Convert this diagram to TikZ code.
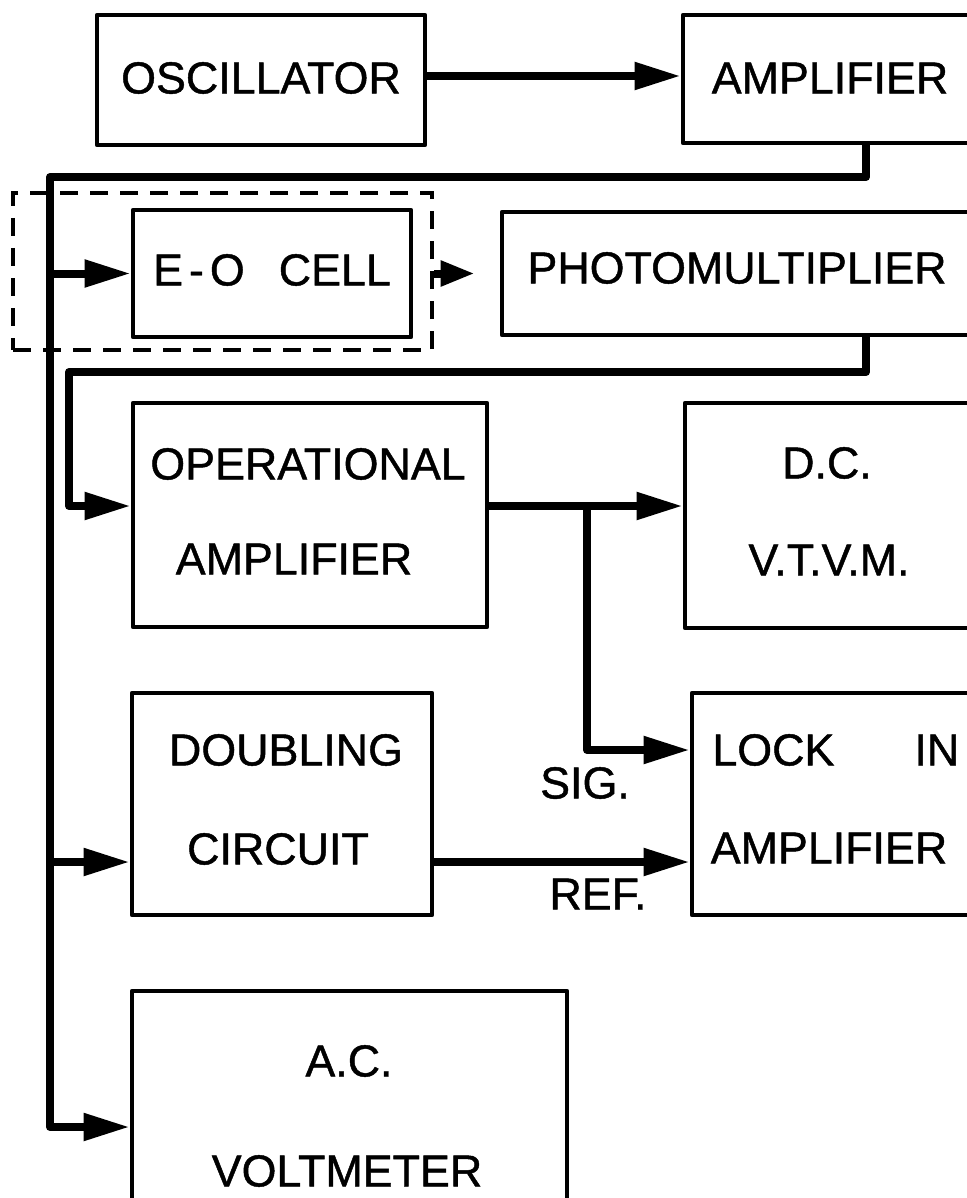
\documentclass[tikz,border=0pt]{standalone}
\usepackage{fontspec}
\setmainfont{Liberation Sans}
\newfontface\lettering{Liberation Sans}[FakeBold=1.0]
\usetikzlibrary{arrows.meta,fit}
\begin{document}
\begin{tikzpicture}[x=0.5pt,y=-0.5pt,
  box/.style={draw=black, line width=2.3pt, inner sep=0pt, line join=round},
  dashbox/.style={draw=black, line width=2pt, dash pattern=on 9pt off 6pt, inner sep=0pt},
  lbl/.style={inner sep=0pt, font=\lettering\fontsize{22.4}{26}\selectfont},
  conn/.style={draw=black, line width=4pt, line join=round},
  arr/.style={-{Triangle[length=23pt,width=13pt]}}]
\clip (0,0) rectangle (967,1198);
\fill[white] (0,0) rectangle (967,1198);
% boxes
\node[box, fit={(97,15) (425,145)}] (osc) {};
\node[box, fit={(683,15) (1010,143)}] (amp) {};
\node[box, fit={(133,210) (411,337)}] (eo) {};
\node[dashbox, fit={(13,193) (432,350)}] (eobox) {};
\node[box, fit={(502,212) (1010,335)}] (pm) {};
\node[box, fit={(133,403) (487,627)}] (op) {};
\node[box, fit={(685,403) (1010,628)}] (dcv) {};
\node[box, fit={(132,693) (432,915)}] (dbl) {};
\node[box, fit={(692,693) (1010,915)}] (lock) {};
\node[box, fit={(132,991) (567,1260)}] (acv) {};
% texts
\node[lbl] (osc-t) at (261,78) {OSCILLATOR};
\node[lbl] (amp-t) at (830,78) {AMPLIFIER};
\node[lbl] (eo-t) at (272,270) {E\hspace{3pt}-\hspace{3pt}O\hspace{17pt}CELL};
\node[lbl] (pm-t) at (737,268) {PHOTOMULTIPLIER};
\node[lbl] (op-t1) at (308,464) {OPERATIONAL};
\node[lbl] (op-t2) at (294,559) {AMPLIFIER};
\node[lbl] (dcv-t1) at (827,463) {D.C.};
\node[lbl] (dcv-t2) at (829,560) {V.T.V.M.};
\node[lbl] (dbl-t1) at (286,750) {DOUBLING};
\node[lbl] (dbl-t2) at (278,849) {CIRCUIT};
\node[lbl, anchor=west] (lock-t1) at (712,750) {LOCK\hspace{40pt}IN};
\node[lbl] (lock-t2) at (829,848) {AMPLIFIER};
\node[lbl] (acv-t1) at (349,1061) {A.C.};
\node[lbl] (acv-t2) at (347,1171) {VOLTMETER};
\node[lbl] (sig) at (585,783) {SIG.};
\node[lbl] (ref) at (598,894) {REF.};
% routing coordinates
\coordinate (r1) at (0,76);
\coordinate (ampout) at (866,0);
\coordinate (bustop) at (50,177);
\coordinate (r2) at (0,1127);
\coordinate (r3) at (0,862);
\coordinate (pmout) at (866,0);
\coordinate (pmloop) at (69,372);
\coordinate (r4) at (0,506);
\coordinate (jn) at (587,506);
\coordinate (r5) at (0,750);
% connectors
\draw[conn,arr] (osc.east |- r1) -- (amp.west |- r1);
\draw[conn,arr] (amp.south -| ampout) |- (bustop) |- (acv.west |- r2);
\draw[conn,arr] (bustop |- eo.west) -- (eo.west);
\draw[conn,arr] (bustop |- r3) -- (dbl.west |- r3);
\draw[conn,-{Triangle[length=17pt,width=12pt]},shorten >=12.5pt] (eobox.east |- eo.east) -- (pm.west |- eo.east);
\draw[conn,arr] (pm.south -| pmout) |- (pmloop) |- (op.west |- r4);
\draw[conn,arr] (op.east |- r4) -- (dcv.west |- r4);
\draw[conn,arr] (jn) |- (lock.west |- r5);
\draw[conn,arr] (dbl.east |- r3) -- (lock.west |- r3);
\end{tikzpicture}
\end{document}
